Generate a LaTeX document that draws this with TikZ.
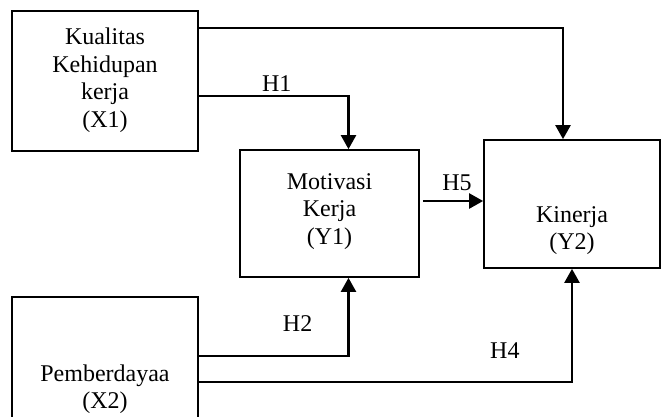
\documentclass[tikz,border=0pt]{standalone}
\usepackage{fontspec}
\setmainfont{Liberation Serif}
\usetikzlibrary{arrows.meta,positioning}

\begin{document}
\begin{tikzpicture}[
  x=1pt, y=-1pt,
  var/.style={draw=black, line width=1.7pt, align=center, inner sep=0pt,
    font=\fontsize{24}{27.5}\selectfont},
  arr/.style={-{Triangle[width=15pt,length=14pt]}, line width=2.3pt},
  hyp/.style={font=\fontsize{24}{27.5}\selectfont}
]
\useasboundingbox (0,0) rectangle (662,416);
\clip (0,0) rectangle (662,416);
%% ─── Variables ──────────────────────────────────────────────────────────────
\node[var, minimum width=186pt, minimum height=140pt, text depth=7pt] (x1) at (105,81)    {Kualitas\\Kehidupan\\kerja\\(X1)};
\node[var, minimum width=179pt, minimum height=127pt, text depth=9pt] (y1) at (329.5,213.5) {Motivasi\\Kerja\\(Y1)};
\node[var, minimum width=176pt, minimum height=128pt, text height=97pt] (y2) at (572,204) {Kinerja\\(Y2)};
\node[var, minimum width=186pt, minimum height=184pt] (x2) at (105,389)   {Pemberdayaa\\(X2)};
%% ─── Hypotheses ─────────────────────────────────────────────────────────────
\draw[arr] ([yshift=-18pt]x1.north east) -| ([xshift=-9pt]y2.north);
\draw[arr] ([yshift=-15pt]x1.east) -| node[hyp, pos=0.26, above]{H1} ([xshift=19pt]y1.north);
\draw[arr] ([xshift=3pt, yshift=12.5pt]y1.east) -- node[hyp, above=6pt, xshift=4pt]{H5} ([yshift=12.5pt]y1.east -| y2.west);
\draw[arr] ([yshift=33pt]x2.east) -| node[hyp, pos=0.33, above=20pt]{H2} ([xshift=19pt]y1.south);
\draw[arr] ([yshift=7pt]x2.east)  -| node[hyp, pos=0.41, above=19pt]{H4} (y2.south);
\end{tikzpicture}
\end{document}
